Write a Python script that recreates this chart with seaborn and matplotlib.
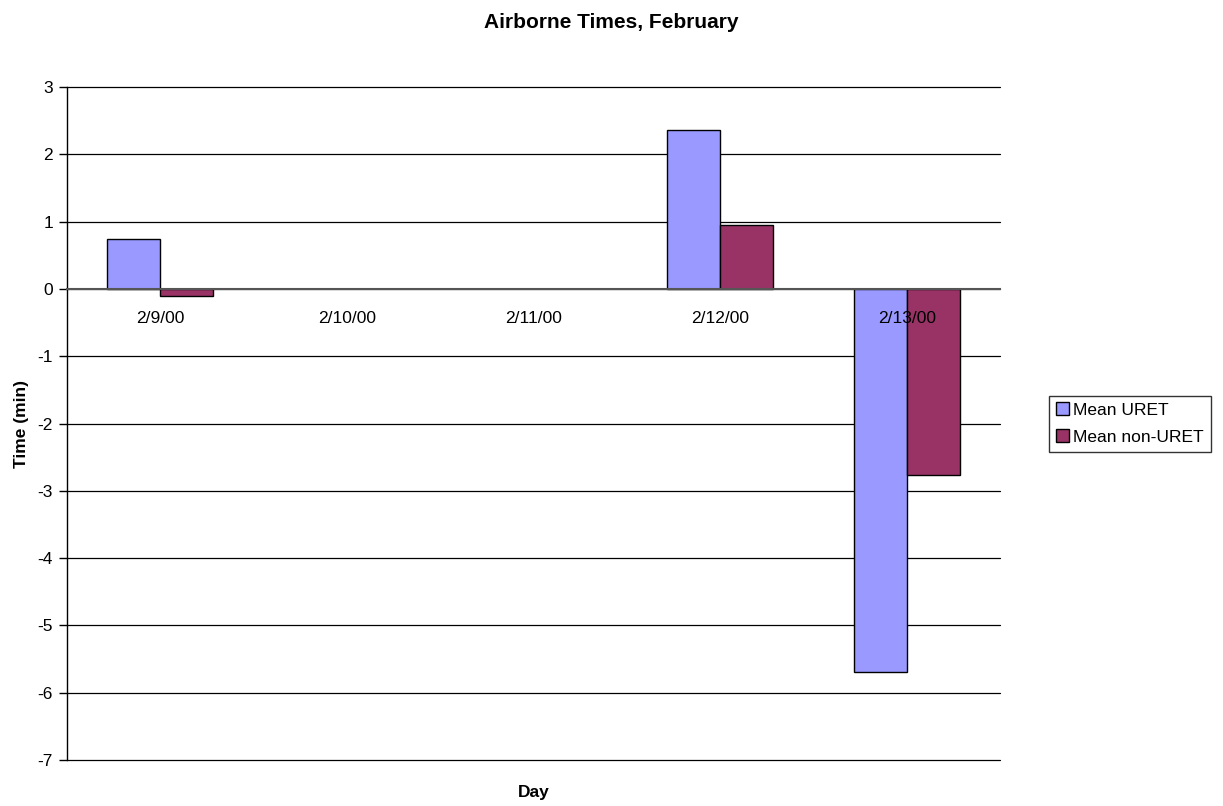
import numpy as np
import pandas as pd
import matplotlib
matplotlib.use("Agg")
import matplotlib.pyplot as plt
from matplotlib.ticker import FixedLocator
import seaborn as sns

days = ["2/9/00", "2/10/00", "2/11/00", "2/12/00", "2/13/00"]
mean_uret = [0.74, np.nan, np.nan, 2.36, -5.69]
mean_non_uret = [-0.11, np.nan, np.nan, 0.95, -2.76]
series_names = ["Mean URET", "Mean non-URET"]
series_colors = ["#9999FF", "#993366"]

df = pd.DataFrame({
    "Day": days * 2,
    "Value": mean_uret + mean_non_uret,
    "Series": [series_names[0]] * len(days) + [series_names[1]] * len(days),
})

sns.set_theme(style="white")
plt.rcParams["font.family"] = ["Liberation Sans", "DejaVu Sans"]
plt.rcParams["axes.unicode_minus"] = False
plt.rcParams["text.color"] = "black"
plt.rcParams["axes.labelcolor"] = "black"

FS = 12.5

fig = plt.figure(figsize=(12.23, 8.06), dpi=100)
ax = fig.add_axes([67 / 1223, 1 - 760 / 806, (1000 - 67) / 1223, (760 - 87) / 806])

sns.barplot(data=df, x="Day", y="Value", hue="Series", order=days,
            hue_order=series_names, palette=series_colors, width=0.57, gap=0,
            edgecolor="black", linewidth=1.0, saturation=1, ax=ax, legend=True,
            zorder=3)

ax.set_xlim(-0.5, len(days) - 0.5)
ax.set_ylim(-7, 3)
ax.set_yticks(np.arange(-7, 4, 1))
ax.yaxis.grid(True, color="black", linewidth=0.9, zorder=0)
for gl in ax.get_ygridlines():
    gl.set_clip_on(False)
ax.set_axisbelow(True)
ax.xaxis.set_zorder(5)

for side in ["top", "right"]:
    ax.spines[side].set_visible(False)
ax.spines["left"].set_color("black")
ax.spines["left"].set_linewidth(1.0)
ax.spines["bottom"].set_position(("data", 0))
ax.spines["bottom"].set_color("#555555")
ax.spines["bottom"].set_linewidth(1.5)
ax.spines["bottom"].set_zorder(4)

ax.tick_params(axis="x", which="major", length=0, pad=16, labelsize=FS, colors="black")
ax.xaxis.set_minor_locator(FixedLocator(np.arange(-0.5, len(days), 1)))
ax.tick_params(axis="x", which="minor", length=5, width=1, direction="out", color="black")
ax.tick_params(axis="y", which="major", left=True, length=6, width=1, direction="out",
               labelsize=FS, colors="black", pad=4)

ax.set_xlabel("")
ax.set_ylabel("Time (min)", fontsize=FS, fontweight="bold", labelpad=6)
fig.text((67 + 1000) / 2 / 1223, 1 - 792 / 806, "Day", ha="center", va="center",
         fontsize=FS, fontweight="bold")
fig.text(0.5, 1 - 22 / 806, "Airborne Times, February", ha="center", va="center",
         fontsize=15, fontweight="bold")

leg = ax.legend(loc="center left", bbox_to_anchor=(1049 / 1223, 1 - 423.5 / 806),
                bbox_transform=fig.transFigure, frameon=True, fancybox=False,
                fontsize=FS, handlelength=0.75, handleheight=0.75, handletextpad=0.25,
                borderpad=0.4, labelspacing=0.65, borderaxespad=0)
leg.get_frame().set_edgecolor("black")
leg.get_frame().set_linewidth(1.0)
for h in leg.legend_handles:
    h.set_edgecolor("black")
    h.set_linewidth(1.0)

fig.savefig("out.png", dpi=100)
